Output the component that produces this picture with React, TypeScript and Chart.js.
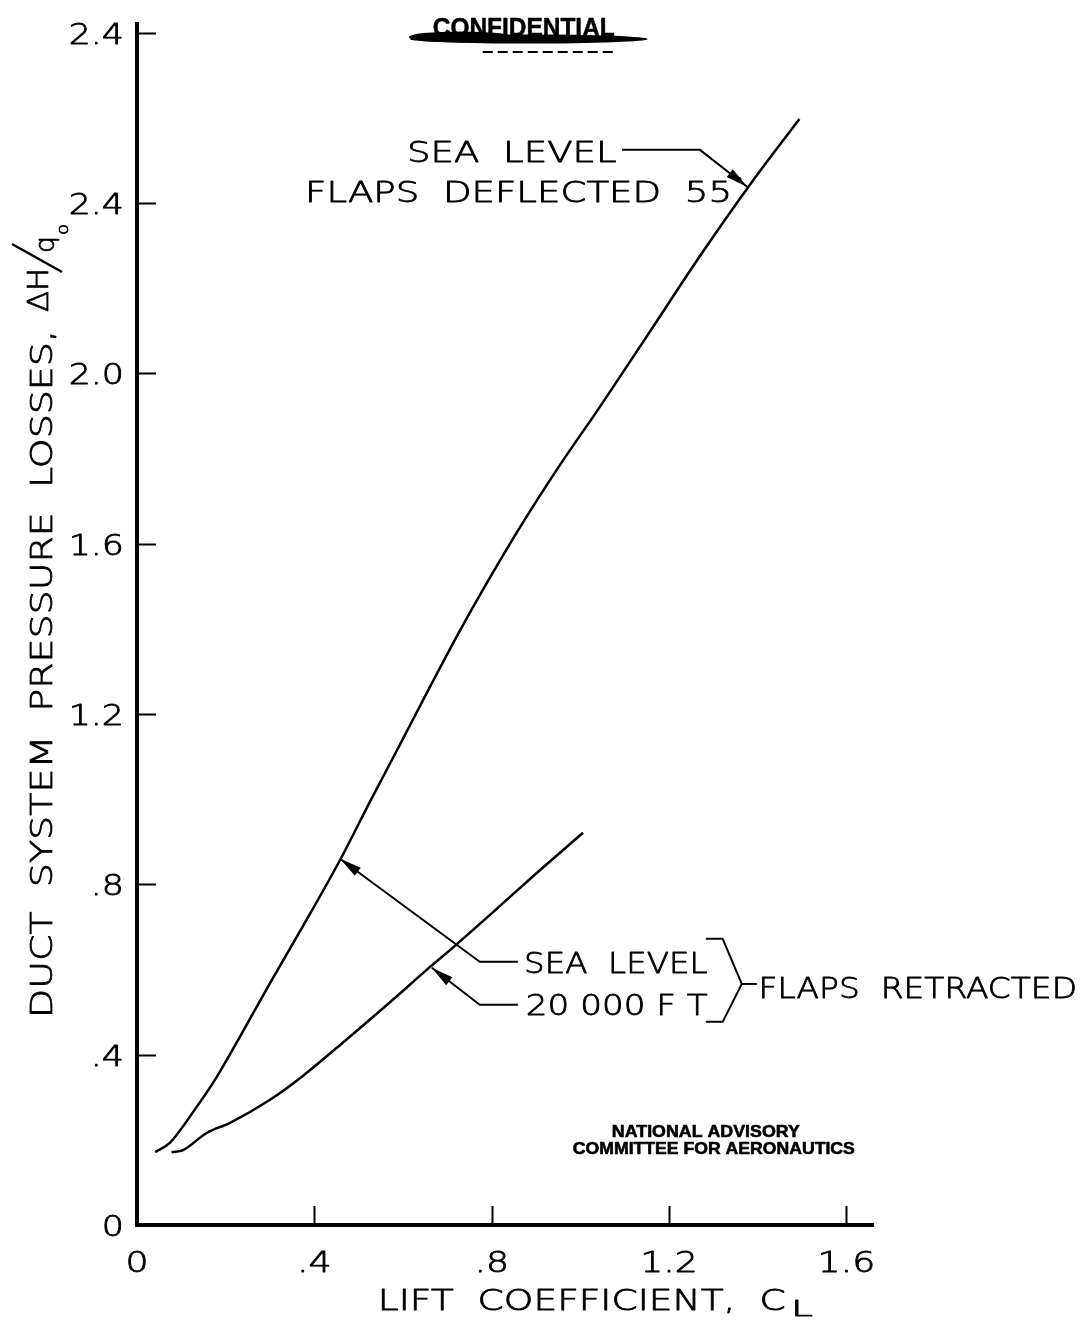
import React, { useEffect, useRef } from "react";
import { Chart, registerables } from "chart.js";

Chart.register(...registerables);

// ---- data ----
const seaLevelCL = [0.041, 0.074, 0.135, 0.18, 0.232, 0.3, 0.374, 0.458, 0.525, 0.593, 0.661, 0.728, 0.796, 0.863, 0.953, 1.044, 1.157, 1.269, 1.382, 1.494];
const seaLevelLoss = [0.171, 0.193, 0.278, 0.348, 0.442, 0.568, 0.701, 0.857, 0.993, 1.128, 1.264, 1.395, 1.52, 1.637, 1.783, 1.921, 2.098, 2.274, 2.442, 2.597];

const alt20kCL = [0.078, 0.104, 0.157, 0.21, 0.3, 0.374, 0.464, 0.577, 0.661, 0.713, 0.811, 0.901, 1.006];
const alt20kLoss = [0.171, 0.176, 0.216, 0.24, 0.294, 0.35, 0.428, 0.529, 0.606, 0.652, 0.742, 0.826, 0.921];

const xTickValues = [0, 0.4, 0.8, 1.2, 1.6];
const xTickLabels = ["0", ".4", ".8", "1.2", "1.6"];
const yTickValues = [0, 0.4, 0.8, 1.2, 1.6, 2.0, 2.4, 2.8];
const yTickLabels = ["0", ".4", ".8", "1.2", "1.6", "2.0", "2.4", "2.4"];

const FONT = '"DejaVu Sans", "Liberation Sans", sans-serif';
const BOLD = '"Liberation Sans", Arial, sans-serif';

const annotate = {
  id: "annotate",
  afterDraw(chart: any) {
    const ctx: CanvasRenderingContext2D = chart.ctx;
    const xs = chart.scales.x;
    const ys = chart.scales.y;
    const X = (v: number) => xs.getPixelForValue(v);
    const Y = (v: number) => ys.getPixelForValue(v);
    const area = chart.chartArea;

    ctx.save();
    ctx.strokeStyle = "#000";
    ctx.fillStyle = "#000";
    ctx.lineJoin = "round";

    // inner tick marks
    ctx.lineWidth = 2;
    yTickValues.forEach((v) => {
      if (v === 0) return;
      const py = Math.round(Y(v)) + 0.5;
      ctx.beginPath();
      ctx.moveTo(area.left, py);
      ctx.lineTo(area.left + 19, py);
      ctx.stroke();
    });
    xTickValues.forEach((v) => {
      if (v === 0) return;
      const px = Math.round(X(v)) + 0.5;
      ctx.beginPath();
      ctx.moveTo(px, area.bottom);
      ctx.lineTo(px, area.bottom - 19);
      ctx.stroke();
    });

    // text with a fixed drawn width (lettering is wider than the font)
    const text = (str: string, x: number, y: number, width: number, size: number, weight: any = 200, family: string = FONT, stroke = 0.8) => {
      ctx.font = `${weight} ${size}px ${family}`;
      ctx.textAlign = "left";
      ctx.textBaseline = "alphabetic";
      const w = ctx.measureText(str).width;
      ctx.save();
      ctx.translate(x, y);
      ctx.scale(width / w, 1);
      ctx.fillText(str, 0, 0);
      if (stroke > 0) {
        ctx.lineWidth = stroke;
        ctx.strokeText(str, 0, 0);
      }
      ctx.restore();
    };
    const scaled = (str: string, x: number, y: number, align: "left" | "right" | "center", sx: number, size: number) => {
      ctx.font = `200 ${size}px ${FONT}`;
      const w = ctx.measureText(str).width * sx;
      const left = align === "left" ? x : align === "right" ? x - w : x - w / 2;
      text(str, left, y, w, size);
    };
    const dtext = (str: string, x0: number, x1: number, yb: number, size: number, weight: any = 200, family: string = FONT, stroke = 0.8) => {
      text(str, X(x0), Y(yb), X(x1) - X(x0), size, weight, family, stroke);
    };
    const arrow = (pts: number[][]) => {
      const p = pts.map(([a, b]) => [X(a), Y(b)]);
      ctx.lineWidth = 2;
      ctx.beginPath();
      ctx.moveTo(p[0][0], p[0][1]);
      for (let i = 1; i < p.length; i++) ctx.lineTo(p[i][0], p[i][1]);
      ctx.stroke();
      const [ax, ay] = p[p.length - 2];
      const [bx, by] = p[p.length - 1];
      const ang = Math.atan2(by - ay, bx - ax);
      const L = 22, W = 5;
      ctx.beginPath();
      ctx.moveTo(bx, by);
      ctx.lineTo(bx - L * Math.cos(ang) + W * Math.sin(ang), by - L * Math.sin(ang) - W * Math.cos(ang));
      ctx.lineTo(bx - L * Math.cos(ang) - W * Math.sin(ang), by - L * Math.sin(ang) + W * Math.cos(ang));
      ctx.closePath();
      ctx.fill();
    };
    const poly = (pts: number[][], lw = 2) => {
      ctx.lineWidth = lw;
      ctx.beginPath();
      pts.forEach(([a, b], i) => (i ? ctx.lineTo(X(a), Y(b)) : ctx.moveTo(X(a), Y(b))));
      ctx.stroke();
    };

    // tick labels
    yTickValues.forEach((v, i) => {
      scaled(yTickLabels[i], area.left - 13, Y(v) + 11, "right", 1.2, 29);
    });
    xTickValues.forEach((v, i) => {
      scaled(xTickLabels[i], X(v), area.bottom + 47, "center", 1.25, 29);
    });

    // Flaps deflected label
    dtext("SEA  LEVEL", 0.609, 1.082, 2.495, 29);
    arrow([[1.094, 2.525], [1.269, 2.525], [1.376, 2.438]]);
    dtext("FLAPS  DEFLECTED  55", 0.379, 1.342, 2.403, 29);
    ctx.beginPath();
    ctx.arc(X(1.357), Y(2.455), 2.8, 0, Math.PI * 2);
    ctx.fill();

    // Flaps retracted labels
    dtext("SEA  LEVEL", 0.873, 1.287, 0.592, 29);
    arrow([[0.859, 0.618], [0.773, 0.618], [0.458, 0.86]]);
    dtext("20 000 F T", 0.877, 1.287, 0.493, 29);
    arrow([[0.859, 0.517], [0.773, 0.517], [0.665, 0.604]]);
    poly([[1.283, 0.672], [1.321, 0.672], [1.364, 0.566], [1.321, 0.477], [1.283, 0.477]]);
    poly([[1.364, 0.566], [1.398, 0.566]]);
    dtext("FLAPS  RETRACTED", 1.402, 2.12, 0.533, 29);

    // NACA stamp
    dtext("NATIONAL ADVISORY", 1.071, 1.495, 0.207, 17, "bold", BOLD, 0.6);
    dtext("COMMITTEE FOR AERONAUTICS", 0.983, 1.619, 0.167, 17, "bold", BOLD, 0.6);

    // CONFIDENTIAL stamp with smudge
    const cx = X(0.87);
    ctx.beginPath();
    ctx.ellipse(cx + 6, area.top + 15, 119, 4.5, 0, 0, Math.PI * 2);
    ctx.fill();
    ctx.beginPath();
    ctx.ellipse(cx - 62, area.top + 13, 52, 5.5, 0, 0, Math.PI * 2);
    ctx.fill();
    text("CONFIDENTIAL", cx - 90, area.top + 12, 182, 26, "bold", BOLD, 0.5);
    ctx.lineWidth = 2;
    ctx.setLineDash([10, 5]);
    ctx.beginPath();
    ctx.moveTo(cx - 40, area.top + 28);
    ctx.lineTo(cx + 90, area.top + 28);
    ctx.stroke();
    ctx.setLineDash([]);

    // x-axis title
    const xtY = area.bottom + 85;
    text("LIFT  COEFFICIENT,  C", X(0.543), xtY, X(1.463) - X(0.543), 29);
    text("L", X(1.475), xtY + 6, 22, 22);

    // y-axis title (rotated)
    ctx.save();
    ctx.translate(area.left - 85, area.bottom - 207);
    ctx.rotate(-Math.PI / 2);
    text("DUCT  SYSTEM  PRESSURE  LOSSES,", 0, 0, 688, 31);
    text("ΔH", 706, -4, 44, 29);
    ctx.lineWidth = 2.5;
    ctx.beginPath();
    ctx.moveTo(746, 10);
    ctx.lineTo(774, -40);
    ctx.stroke();
    text("q", 765, 2, 17, 26);
    text("o", 783, 16, 11, 16);
    ctx.restore();

    ctx.restore();
  },
};

export default function App() {
  const ref = useRef<HTMLCanvasElement>(null);

  useEffect(() => {
    const canvas = ref.current!;
    const chart = new Chart(canvas, {
      type: "scatter",
      data: {
        datasets: [
          {
            label: "Sea level",
            data: seaLevelCL.map((x, i) => ({ x, y: seaLevelLoss[i] })),
            showLine: true,
            borderColor: "#000",
            borderWidth: 2.5,
            pointRadius: 0,
            cubicInterpolationMode: "monotone",
          },
          {
            label: "20 000 ft",
            data: alt20kCL.map((x, i) => ({ x, y: alt20kLoss[i] })),
            showLine: true,
            borderColor: "#000",
            borderWidth: 2.5,
            pointRadius: 0,
            cubicInterpolationMode: "monotone",
          },
        ],
      },
      options: {
        animation: false,
        responsive: false,
        devicePixelRatio: 1,
        layout: { padding: { left: 0, top: 24, right: 208, bottom: 0 } },
        plugins: { legend: { display: false }, tooltip: { enabled: false } },
        scales: {
          x: {
            type: "linear",
            min: 0,
            max: 1.66,
            afterBuildTicks: (s: any) => {
              s.ticks = xTickValues.map((v) => ({ value: v }));
            },
            afterFit: (s: any) => {
              s.height = 100;
            },
            grid: { display: false, drawTicks: false },
            border: { display: true, width: 4, color: "#000" },
            ticks: { display: false },
          },
          y: {
            type: "linear",
            min: 0,
            max: 2.82,
            afterBuildTicks: (s: any) => {
              s.ticks = yTickValues.map((v) => ({ value: v }));
            },
            afterFit: (s: any) => {
              s.width = 137;
            },
            grid: { display: false, drawTicks: false },
            border: { display: true, width: 4, color: "#000" },
            ticks: { display: false },
          },
        },
      },
      plugins: [annotate],
    } as any);
    return () => chart.destroy();
  }, []);

  return (
    <div style={{ position: "absolute", left: 0, top: 0, width: 1081, height: 1325, background: "#fff" }}>
      <canvas ref={ref} width={1081} height={1325} style={{ display: "block", width: 1081, height: 1325 }} />
    </div>
  );
}
